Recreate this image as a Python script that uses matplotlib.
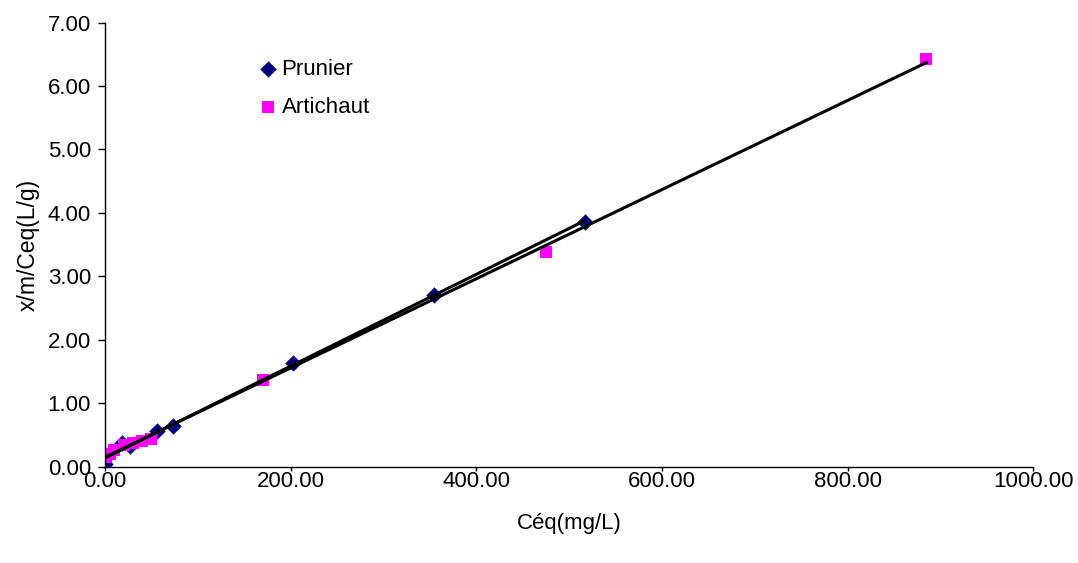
import numpy as np
import matplotlib
matplotlib.use("Agg")
import matplotlib.pyplot as plt

plt.rcParams['font.family'] = ['Liberation Sans', 'DejaVu Sans']

# Prunier isotherm points
prunier_x = [0.5, 18.0, 27.0, 56.0, 73.0, 203.0, 354.0, 517.0]
prunier_y = [0.04, 0.37, 0.33, 0.56, 0.64, 1.63, 2.71, 3.86]

# Artichaut isotherm points
artichaut_x = [1.0, 5.0, 10.0, 20.0, 30.0, 40.0, 50.0, 170.0, 475.0, 885.0]
artichaut_y = [0.16, 0.20, 0.26, 0.34, 0.38, 0.41, 0.43, 1.37, 3.39, 6.42]

x_ticks = [0, 200, 400, 600, 800, 1000]
y_ticks = [0, 1, 2, 3, 4, 5, 6, 7]

fig = plt.figure(figsize=(10.78, 5.63), dpi=100)
ax = fig.add_axes([0.0974, 0.171, 0.861, 0.789])

# Linear trend lines over each series' range
for xs, ys in [(prunier_x, prunier_y), (artichaut_x, artichaut_y)]:
    a, b = np.polyfit(xs, ys, 1)
    xx = np.array([min(xs), max(xs)])
    ax.plot(xx, a * xx + b, color='black', lw=2.2, zorder=3)

ax.scatter(prunier_x, prunier_y, marker='D', s=70, color='#000080',
           label='Prunier', zorder=2, linewidths=0)
ax.scatter(artichaut_x, artichaut_y, marker='s', s=85, color='#FF00FF',
           label='Artichaut', zorder=2, linewidths=0)

ax.set_xlim(0, 1000)
ax.set_ylim(0, 7)
ax.set_xticks(x_ticks)
ax.set_xticklabels([f"{v:.2f}" for v in x_ticks])
ax.set_yticks(y_ticks)
ax.set_yticklabels([f"{v:.2f}" for v in y_ticks])
ax.spines['top'].set_visible(False)
ax.spines['right'].set_visible(False)
for s in ('left', 'bottom'):
    ax.spines[s].set_linewidth(1.0)
ax.tick_params(direction='out', width=1, labelsize=16)
ax.tick_params(axis='y', length=5, pad=5)
ax.tick_params(axis='x', length=3, pad=0)
ax.set_xlabel('Céq(mg/L)', fontsize=16, labelpad=15)
ax.set_ylabel('x/m/Ceq(L/g)', fontsize=16.5, labelpad=6)

ax.legend(loc='upper left', bbox_to_anchor=(0.1615, 0.918), frameon=False,
          fontsize=16, handletextpad=0.0, handlelength=1.2, labelspacing=0.78,
          borderaxespad=0, borderpad=0, scatterpoints=1)

fig.savefig('out.png', dpi=100)
